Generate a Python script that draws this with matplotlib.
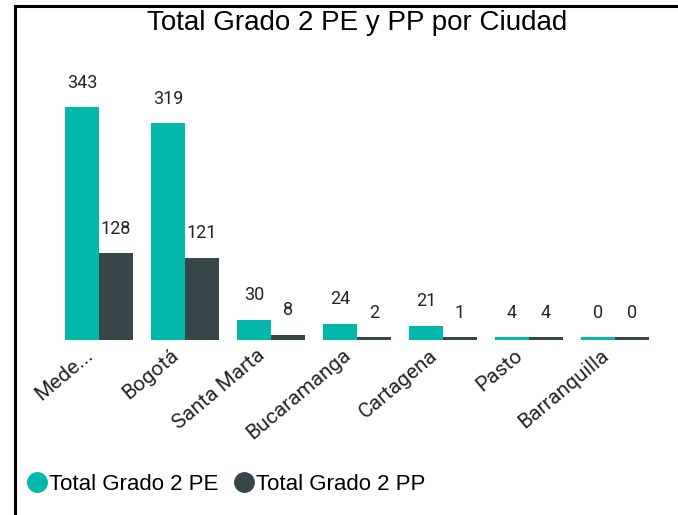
import numpy as np
import matplotlib
matplotlib.use("Agg")
import matplotlib.pyplot as plt
from matplotlib.lines import Line2D

ciudades = ["Mede...", "Bogotá", "Santa Marta", "Bucaramanga", "Cartagena", "Pasto", "Barranquilla"]
total_pe = [343, 319, 30, 24, 21, 4, 0]
total_pp = [128, 121, 8, 2, 1, 4, 0]

c_pe = "#01B8AA"
c_pp = "#374649"
c_txt = "#252423"

fig = plt.figure(figsize=(6.78, 5.15), dpi=100)
ax = fig.add_axes([0.0826, 0.3398, 0.888, 0.5437])

x = np.arange(len(ciudades))
w = 0.395
# Power BI dibuja un minimo visible para valores muy chicos
pe_draw = np.maximum(total_pe, 4)
pp_draw = np.maximum(total_pp, 4)
ax.bar(x - w / 2, pe_draw, w, color=c_pe)
ax.bar(x + w / 2, pp_draw, w, color=c_pp)

for i in range(len(ciudades)):
    ax.annotate(str(total_pe[i]), (x[i] - w / 2, pe_draw[i]), xytext=(0, 11),
                textcoords="offset points", ha="center", va="bottom",
                fontsize=13, family="Roboto", color=c_txt)
    ax.annotate(str(total_pp[i]), (x[i] + w / 2, pp_draw[i]), xytext=(0, 11),
                textcoords="offset points", ha="center", va="bottom",
                fontsize=13, family="Roboto", color=c_txt)

ax.set_xlim(-0.5, 6.5)
ax.set_ylim(0, 412)
ax.set_yticks([])
ax.set_xticks(x - 0.17)
ax.set_xticklabels(ciudades, rotation=40, ha="right", va="top",
                   rotation_mode="anchor", fontsize=15, family="Roboto", color=c_txt)
ax.tick_params(axis="x", length=0, pad=4)
for s in ax.spines.values():
    s.set_visible(False)

fig.text(0.527, 0.955, "Total Grado 2 PE y PP por Ciudad", ha="center", va="center",
         fontsize=20, family="Liberation Sans", color="black")

# borde de la tarjeta
fig.add_artist(Line2D([15 / 678, 15 / 678], [0, 1 - 6 / 515], color="black", lw=2.2))
fig.add_artist(Line2D([15 / 678, 1], [1 - 6 / 515, 1 - 6 / 515], color="black", lw=2.2))

handles = [Line2D([], [], marker="o", ls="", color=c_pe, markersize=14),
           Line2D([], [], marker="o", ls="", color=c_pp, markersize=14)]
fig.legend(handles, ["Total Grado 2 PE", "Total Grado 2 PP"], loc="center left",
           bbox_to_anchor=(0.012, 0.06), ncol=2, frameon=False, handlelength=0.8,
           handletextpad=0.15, columnspacing=0.75,
           prop={"family": "Liberation Sans", "size": 16})

fig.savefig("out.png", dpi=100)
